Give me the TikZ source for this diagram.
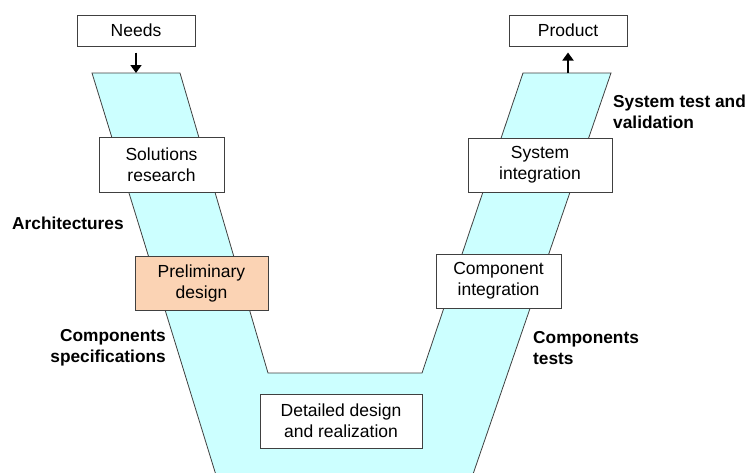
\documentclass[tikz,border=0pt]{standalone}
\usepackage{fontspec}
\setmainfont{Liberation Sans}
\usetikzlibrary{arrows.meta}
\definecolor{band}{HTML}{CCFFFF}
\definecolor{peach}{HTML}{FBD3B4}
\definecolor{edge}{HTML}{404040}
\tikzset{
  box/.style={draw=edge, line width=1pt, fill=white, inner sep=0pt, align=center,
    font=\fontsize{17.5}{21}\selectfont},
  lbl/.style={font=\bfseries\fontsize{17.3}{21}\selectfont, inner sep=0pt},
  flow/.style={line width=1.8pt, -{Triangle[length=8pt,width=11pt]}}
}
\begin{document}
\begin{tikzpicture}[x=1pt,y=-1pt]
\useasboundingbox (0,0) rectangle (753,472);
% V band (bottom runs off the picture)
\begin{scope}
\clip (0,0) rectangle (753,472);
\draw[edge, line width=0.8pt, fill=band]
  (92,73) -- (180,73) -- (268,373) -- (422,373) -- (523,73) -- (611,73)
  -- (471,480) -- (217.5,480) -- cycle;
\end{scope}
% boxes
\node[box, minimum width=118pt, minimum height=31pt] (needs) at (136,30.5) {Needs};
\node[box, minimum width=118pt, minimum height=31pt] (product) at (568,30.5) {Product};
\node[box, minimum width=125pt, minimum height=55pt] (sol) at (161.5,164.5) {Solutions\\research};
\node[box, fill=peach, minimum width=133pt, minimum height=54pt] (pre) at (201.5,283) {Preliminary\\design};
\node[box, minimum width=162pt, minimum height=54pt] (det) at (341,421) {Detailed design\\and realization};
\node[box, minimum width=125pt, minimum height=54pt] (comp) at (498.5,281) {Component\\integration};
\node[box, minimum width=144pt, minimum height=54pt] (sys) at (540,165) {System\\integration};
% arrows
\coordinate (ntop) at (136,73);
\coordinate (ptop) at (568,73);
\draw[flow] ([yshift=-6pt]needs.south) -- (ntop);
\draw[flow] (ptop) -- ([yshift=-6pt]product.south);
% labels
\node[lbl, anchor=west] (arch) at (12,223) {Architectures};
\node[lbl, anchor=east, align=right] (cspec) at (166,348) {Components\\specifications};
\node[lbl, anchor=west, align=left] (stv) at (613,112) {System test and\\validation};
\node[lbl, anchor=west, align=left] (ctest) at (533,348) {Components\\tests};
\end{tikzpicture}
\end{document}
